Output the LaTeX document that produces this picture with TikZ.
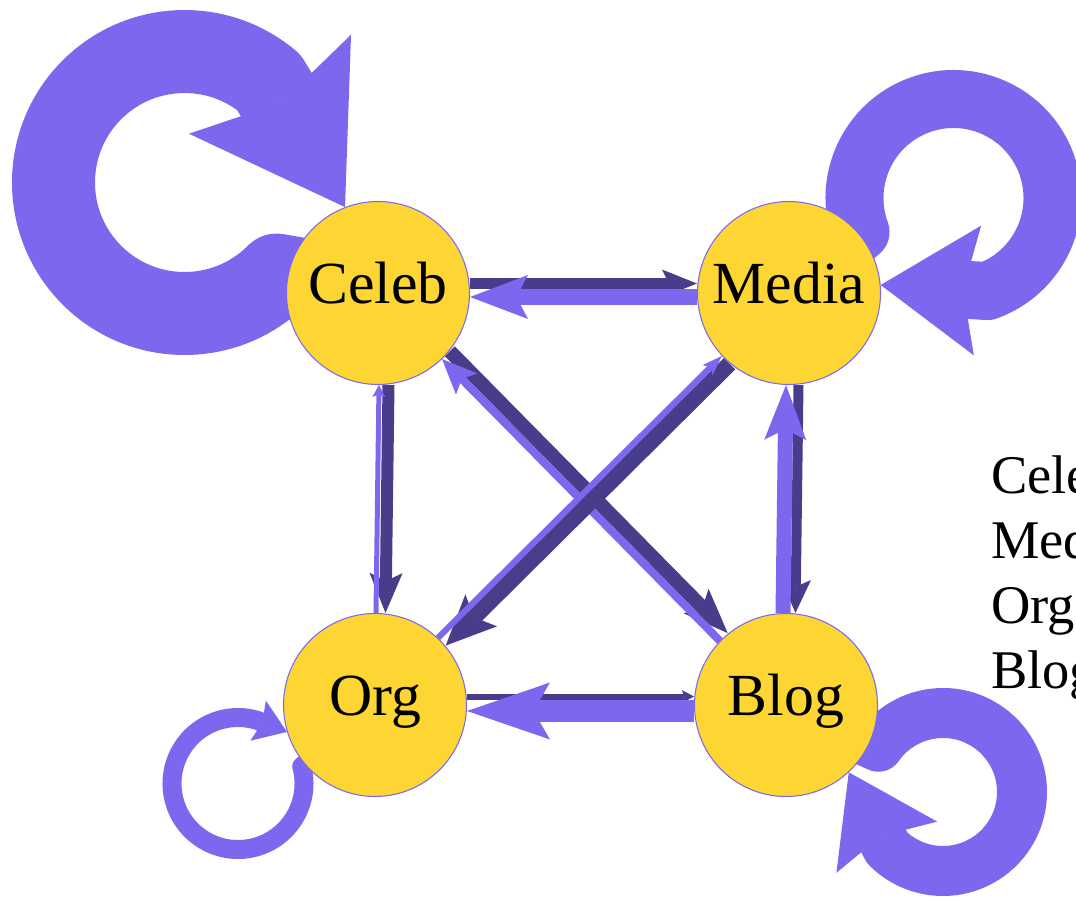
\documentclass[tikz,border=0pt]{standalone}
\usepackage{fontspec}
\setmainfont{Liberation Serif}
\usetikzlibrary{arrows.meta,backgrounds}
\definecolor{lite}{HTML}{7B68EE}
\definecolor{dark}{HTML}{483D8B}
\definecolor{gold}{HTML}{FDD633}
\tikzset{
  actor/.style={circle, draw=lite, line width=0.6pt, fill=gold, minimum size=36.6mm, inner sep=0pt,
    font=\fontsize{34}{40}\selectfont, text height=17pt, text depth=5.6pt},
  key/.style={anchor=base west, font=\fontsize{31}{37}\selectfont},
  flow/.style n args={4}{draw=#1, line width=#2,
    -{Stealth[length=#3, width=#4, inset'=0pt 0.2, line width=0pt]}},
  selfloop/.style n args={3}{draw=lite, line width=#1, line join=round,
    -{Stealth[length=#2, width=#3, inset'=0pt 0.15, line width=0pt]}},
}
\begin{document}
\begin{tikzpicture}[x=0.2mm, y=-0.2mm]
\useasboundingbox (0,0) rectangle (1076,899);
\clip (0,0) rectangle (1076,899);
% the four accounts
\node[actor] (celeb) at (378,293) {Celeb};
\node[actor] (media) at (789,293) {Media};
\node[actor] (org) at (375,705) {Org};
\node[actor] (blog) at (786,705) {Blog};
% key on the right, cut by the frame
\node[key] (k1) at (985,493) {Cele};
\node[key] (k2) at (985,558) {Med};
\node[key] (k3) at (985,623) {Org};
\node[key] (k4) at (985,688) {Blog};

\begin{pgfonlayer}{background}
% self loops
\coordinate (cc) at (184.5,182.5);
\coordinate (cm) at (953.5,198);
\coordinate (co) at (238,783.5);
\coordinate (cb) at (943,792);
\draw[selfloop={16.6mm}{28.8mm}{38mm}] (celeb.center) -- ([shift={(45:131)}]cc)
  arc[start angle=45, end angle=310, radius=131] -- (celeb.111);
\draw[selfloop={11.6mm}{19.4mm}{26mm}] (media.center) -- ([shift={(160:99)}]cm)
  arc[start angle=160, end angle=430, radius=99] -- (media.5);
\draw[selfloop={3.8mm}{6.2mm}{8.6mm}] (org.center) -- ([shift={(-15:66)}]co)
  arc[start angle=-15, end angle=287, radius=66] -- (org.197);
\draw[selfloop={10mm}{16.8mm}{22.6mm}] (blog.center) -- ([shift={(215:79)}]cb)
  arc[start angle=215, end angle=495, radius=79] -- (blog.313);

% square sides
\draw[flow={dark}{2.2mm}{7mm}{5.6mm}] ([yshift=1.9mm]celeb.east) -- ([yshift=1.9mm]media.west);
\draw[flow={lite}{3.2mm}{11.6mm}{8.8mm}] ([yshift=-0.8mm]media.west) -- ([yshift=-0.8mm]celeb.east);
\draw[flow={dark}{2.4mm}{8mm}{6.6mm}] ([xshift=2.1mm]celeb.south) -- ([xshift=2.1mm]org.north);
\draw[flow={lite}{1mm}{2.4mm}{2.6mm}] ([xshift=0.2mm]org.north) -- ([xshift=0.2mm]celeb.south);
\draw[flow={dark}{2mm}{6.6mm}{6mm}] ([xshift=1.9mm]media.south) -- ([xshift=1.9mm]blog.north);
\draw[flow={lite}{3mm}{11mm}{8.4mm}] ([xshift=-0.6mm]blog.north) -- ([xshift=-0.6mm]media.south);
\draw[flow={dark}{1.2mm}{2.4mm}{2.6mm}] ([yshift=1.7mm]org.east) -- ([yshift=1.7mm]blog.west);
\draw[flow={lite}{4.4mm}{16.6mm}{11.4mm}] ([yshift=-1.2mm]blog.west) -- ([yshift=-1.2mm]org.east);

% diagonals
\draw[flow={dark}{2.8mm}{9mm}{7mm}] ([shift={(1.36mm,1.36mm)}]celeb.south east) -- ([shift={(1.36mm,1.36mm)}]blog.north west);
\draw[flow={lite}{1.6mm}{7mm}{6mm}] ([shift={(-0.2mm,-0.2mm)}]blog.north west) -- ([shift={(-0.2mm,-0.2mm)}]celeb.south east);
\draw[flow={dark}{3.2mm}{10mm}{9mm}] ([shift={(1.13mm,-1.13mm)}]media.south west) -- ([shift={(1.13mm,-1.13mm)}]org.north east);
\draw[flow={lite}{1.2mm}{4mm}{2.8mm}] ([shift={(-0.42mm,0.42mm)}]org.north east) -- ([shift={(-0.42mm,0.42mm)}]media.south west);
\end{pgfonlayer}
\end{tikzpicture}
\end{document}
